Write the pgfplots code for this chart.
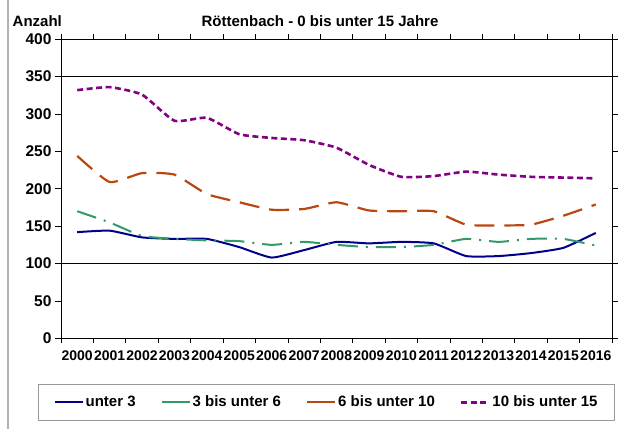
\documentclass[border=0pt]{standalone}
\usepackage{fontspec}
\setmainfont{Liberation Sans}
\usepackage{pgfplots}
\pgfplotsset{compat=1.18}
\definecolor{cblue}{RGB}{0,0,140}
\definecolor{cgreen}{RGB}{51,153,102}
\definecolor{cbrown}{RGB}{184,72,16}
\definecolor{cpurple}{RGB}{130,0,130}
\pgfplotstableread{
x a b c d
0 142 170 244 332
1 144 155 209 336
2 135 137 221 326
3 133 133 219 291
4 133 131 193 295
5 122 130 182 273
6 108 125 172 268
7 118 129 173 265
8 129 125 182 255
9 127 122 171 232
10 129 122 170 216
11 127 125 170 217
12 110 133 152 223
13 110 129 151 219
14 114 133 152 216
15 121 133 164 215
16 141 124 179 214
}\datatable
\begin{document}
\begin{tikzpicture}[x=1pt,y=1pt]
\useasboundingbox (0,0) rectangle (626,429);
\draw[gray!60, line width=1.2pt] (8,0) -- (8,429);
\node[anchor=base west, font=\fontsize{15}{18}\selectfont\bfseries, inner sep=0pt] at (12.5,402) {Anzahl};
\node[anchor=base, font=\fontsize{15}{18}\selectfont\bfseries, inner sep=0pt] at (320,402) {Röttenbach - 0 bis unter 15 Jahre};
\begin{axis}[
  at={(61pt,90.7pt)}, anchor=south west,
  scale only axis, width=551pt, height=299pt,
  xmin=-0.5, xmax=16.5, ymin=0, ymax=400,
  ytick={0,50,...,400},
  xtick={0,...,16},
  xticklabels={2000,2001,2002,2003,2004,2005,2006,2007,2008,2009,2010,2011,2012,2013,2014,2015,2016},
  minor xtick={-0.5,0.5,...,16.5},
  x tick label style={font=\fontsize{14}{16}\selectfont\bfseries, inner xsep=0pt, yshift=-3pt},
  y tick label style={font=\fontsize{15.5}{18}\selectfont\bfseries},
  /pgf/number format/assume math mode=true,
  tick align=outside,
  xtick style={draw=none},
  minor x tick style={draw=black, line width=0.7pt},
  minor tick length=5pt,
  ytick style={draw=black, line width=0.7pt},
  major tick length=6pt,
  axis line style={line width=0.9pt},
  extra y ticks={100,350},
  extra y tick labels={},
  extra y tick style={grid=major, major grid style={black, line width=0.8pt}, tick style={draw=none}},
  legend columns=4,
  legend style={at={(0.482,-0.214)}, anchor=center, draw=gray!80, line width=0.8pt,
    font=\fontsize{15}{18}\selectfont\bfseries, inner xsep=15pt, inner ysep=10pt,
    /tikz/every even column/.append style={column sep=23pt}},
  legend image code/.code={\draw[#1] (0pt,0pt) -- (28pt,0pt);},
]
\addplot[cblue, line width=2pt, smooth, tension=0.3, forget plot] table[x=x,y=a] {\datatable};
\addplot[cgreen, line width=2pt, smooth, tension=0.3, dash pattern=on 20pt off 8pt on 2pt off 8pt, forget plot] table[x=x,y=b] {\datatable};
\addplot[cbrown, line width=2.2pt, smooth, tension=0.3, dash pattern=on 20pt off 10pt, forget plot] table[x=x,y=c] {\datatable};
\addplot[cpurple, line width=2.6pt, smooth, tension=0.3, dash pattern=on 6pt off 3.5pt, forget plot] table[x=x,y=d] {\datatable};
\addlegendimage{cblue, line width=2pt}
\addlegendentry{unter 3}
\addlegendimage{cgreen, line width=2pt}
\addlegendentry{3 bis unter 6}
\addlegendimage{cbrown, line width=2.2pt}
\addlegendentry{6 bis unter 10}
\addlegendimage{cpurple, line width=2.6pt, dash pattern=on 6pt off 3.5pt}
\addlegendentry{10 bis unter 15}
\end{axis}
\end{tikzpicture}
\end{document}
